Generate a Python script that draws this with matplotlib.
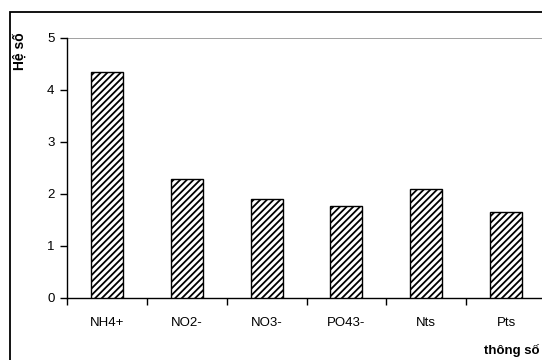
import matplotlib
matplotlib.use("Agg")
import matplotlib.pyplot as plt
from matplotlib.patches import Rectangle

categories = ["NH4+", "NO2-", "NO3-", "PO43-", "Nts", "Pts"]
values = [4.35, 2.28, 1.90, 1.76, 2.09, 1.66]
yticks = [0, 1, 2, 3, 4, 5]

plt.rcParams['font.family'] = ['Liberation Sans', 'DejaVu Sans']
plt.rcParams['hatch.linewidth'] = 1.3

W, H = 542, 360
fig = plt.figure(figsize=(W / 100, H / 100), dpi=100)

# outer frame (extends past right/bottom edge)
fig.patches.append(Rectangle((10 / W, -0.1), 1.2, (H - 12) / H + 0.1,
                             transform=fig.transFigure, fill=False,
                             edgecolor='black', linewidth=1.3))

ax = fig.add_axes([67 / W, 62 / H, (546 - 67) / W, (298 - 38) / H])
x = list(range(len(categories)))
ax.bar(x, values, width=0.4, color='white', edgecolor='black',
       hatch='/////', linewidth=1.0, zorder=3)

ax.set_xlim(-0.5, len(categories) - 0.5)
ax.set_ylim(0, 5)
ax.set_yticks(yticks)
ax.set_yticklabels([str(v) for v in yticks], fontsize=9.5)
ax.axhline(5, color='#999999', linewidth=1.3, zorder=1)

ax.set_xticks([i - 0.5 for i in range(len(categories) + 1)])
ax.set_xticklabels([])
ax.set_xticks(x, minor=True)
ax.set_xticklabels(categories, minor=True, fontsize=9.5)
ax.tick_params(axis='x', which='major', length=5, direction='out', width=1)
ax.tick_params(axis='x', which='minor', length=0, pad=14)
ax.tick_params(axis='y', length=5, direction='out', width=1, pad=4)

for s in ['top', 'right']:
    ax.spines[s].set_visible(False)
ax.spines['left'].set_linewidth(1.0)
ax.spines['bottom'].set_linewidth(1.0)

fig.text(20 / W, 1 - 51 / H, "Hệ số", rotation=90, fontsize=10,
         fontweight='bold', ha='center', va='center')
fig.text(539 / W, 1 - 350 / H, "thông số", fontsize=9.5,
         fontweight='bold', ha='right', va='center')

fig.savefig("out.png", dpi=100)
